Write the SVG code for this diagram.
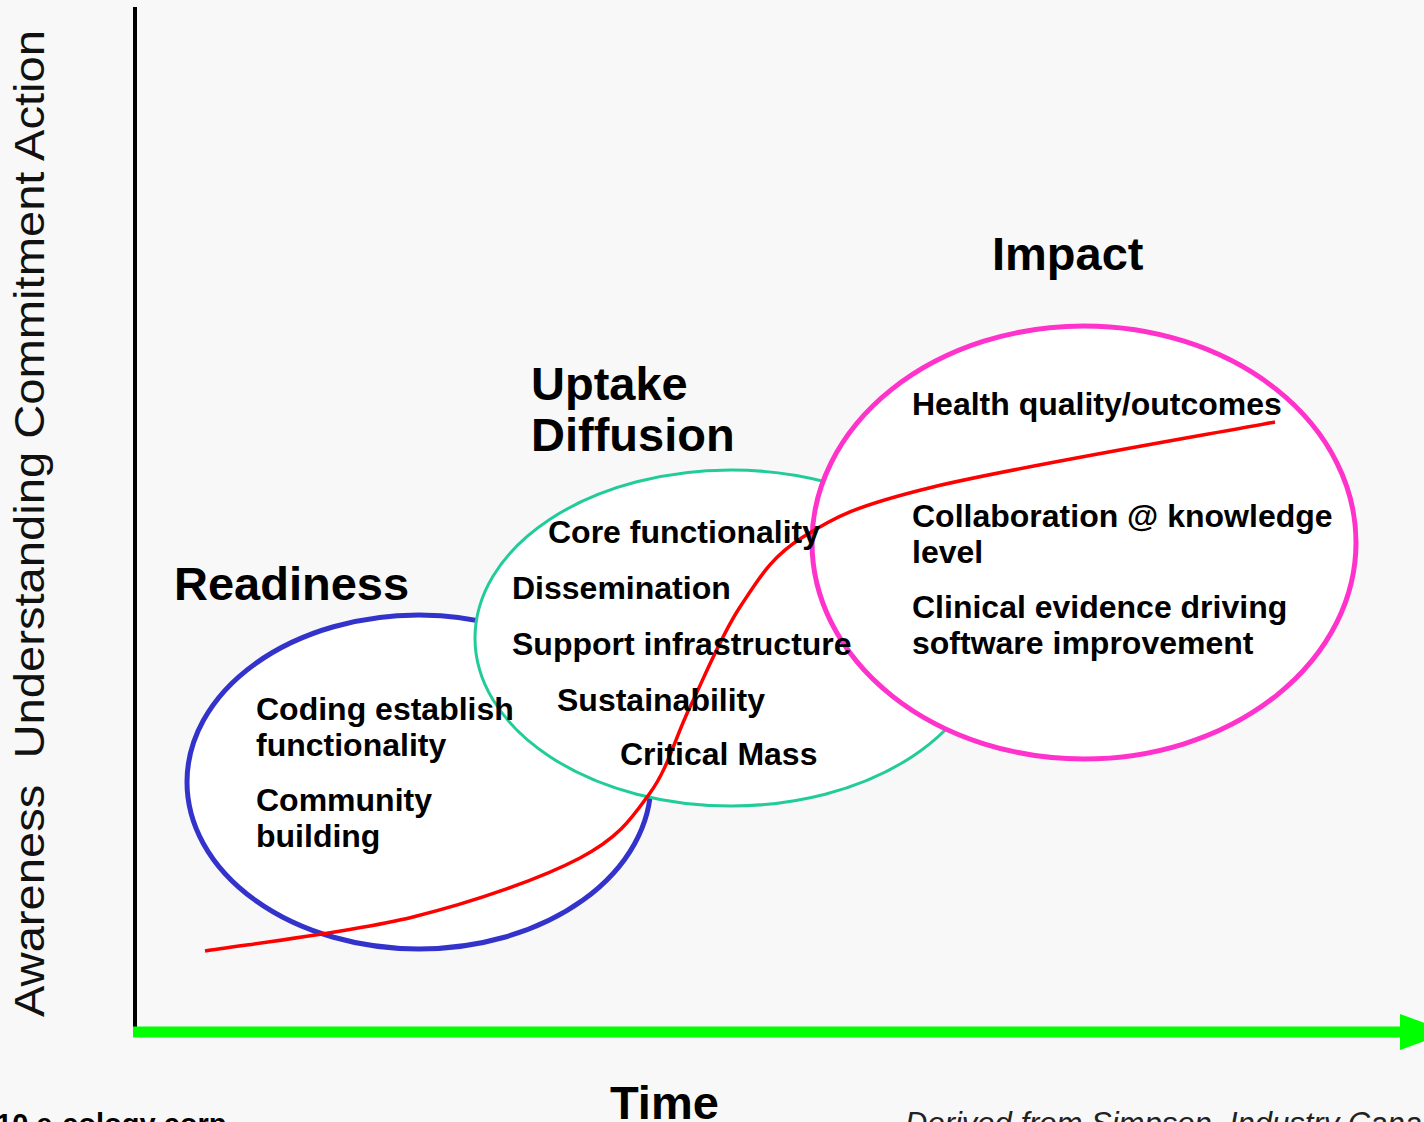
<svg xmlns="http://www.w3.org/2000/svg" width="1424" height="1122" viewBox="0 0 1424 1122">
  <style>
    .bg { fill: #f8f8f8; }
    .ell { fill: #ffffff; }
    .title { font-family: "Liberation Sans", Arial, sans-serif; font-weight: bold; font-size: 47px; fill: #000; }
    .body { font-family: "Liberation Sans", Arial, sans-serif; font-weight: bold; font-size: 32px; fill: #000; }
    .axislabel { font-family: "Liberation Sans", Arial, sans-serif; font-size: 42px; fill: #111; }
    .foot { font-family: "Liberation Sans", Arial, sans-serif; font-size: 29px; fill: #000; font-weight: bold; }
    .credit { font-family: "Liberation Sans", Arial, sans-serif; font-size: 31px; font-style: italic; fill: #222; }
  </style>
  <rect class="bg" x="0" y="0" width="1424" height="1122"/>

  <g id="axes">
    <line x1="135" y1="7" x2="135" y2="1031" stroke="#000" stroke-width="4"/>
    <line x1="133" y1="1032" x2="1402" y2="1032" stroke="#00ff00" stroke-width="11"/>
    <polygon points="1400,1014 1450,1032 1400,1050" fill="#00ff00"/>
  </g>
  <g id="y-axis-label">
    <text class="axislabel" transform="translate(44,1017) rotate(-90)" x="0" y="0" textLength="987" lengthAdjust="spacingAndGlyphs" xml:space="preserve">Awareness  Understanding Commitment Action</text>
  </g>

  <g id="readiness">
    <ellipse class="ell" cx="419" cy="782" rx="232" ry="167" stroke="#3333cc" stroke-width="5"/>
  </g>
  <g id="uptake">
    <ellipse class="ell" cx="731" cy="638" rx="256" ry="168" stroke="#22cc99" stroke-width="3"/>
  </g>
  <g id="impact">
    <ellipse class="ell" cx="1084" cy="542.5" rx="272" ry="216.5" stroke="#ff33cc" stroke-width="5"/>
  </g>

  <g id="connectors">
    <path d="M205,951 C239.7,945.3 350.5,932.5 413,917 C475.5,901.5 540.5,878.7 580,858 C619.5,837.3 631.7,818.2 650,793 C668.3,767.8 675,738 690,707 C705,676 721.2,635.3 740,607 C758.8,578.7 770.8,557 803,537 C835.2,517 854.3,506.2 933,487 C1011.7,467.8 1218,432.8 1275,422" fill="none" stroke="#ff0000" stroke-width="3.5"/>
  </g>

  <g id="readiness-text">
    <text class="title" x="174" y="600">Readiness</text>
    <text class="body" x="256" y="720">Coding establish</text>
    <text class="body" x="256" y="756">functionality</text>
    <text class="body" x="256" y="811">Community</text>
    <text class="body" x="256" y="847">building</text>
  </g>
  <g id="uptake-text">
    <text class="title" x="531" y="400">Uptake</text>
    <text class="title" x="531" y="451">Diffusion</text>
    <text class="body" x="548" y="543">Core functionality</text>
    <text class="body" x="512" y="599">Dissemination</text>
    <text class="body" x="512" y="655">Support infrastructure</text>
    <text class="body" x="557" y="711">Sustainability</text>
    <text class="body" x="620" y="765">Critical Mass</text>
  </g>
  <g id="impact-text">
    <text class="title" x="992" y="270">Impact</text>
    <text class="body" x="912" y="415">Health quality/outcomes</text>
    <text class="body" x="912" y="527">Collaboration @ knowledge</text>
    <text class="body" x="912" y="563">level</text>
    <text class="body" x="912" y="618">Clinical evidence driving</text>
    <text class="body" x="912" y="654">software improvement</text>
  </g>

  <g id="x-axis-label">
    <text class="title" x="610" y="1119">Time</text>
  </g>
  <g id="footer">
    <text class="foot" x="-4" y="1134">10 e-cology corp</text>
    <text class="credit" x="905" y="1134">Derived from Simpson, Industry Cana</text>
  </g>
</svg>
